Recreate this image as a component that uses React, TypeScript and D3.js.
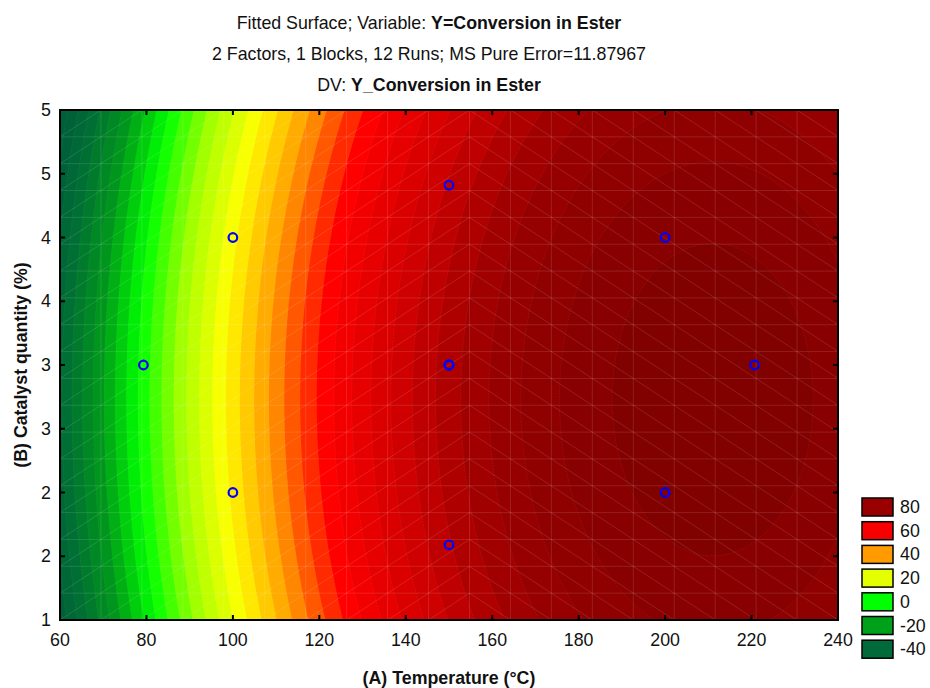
import React from 'react';
import * as d3 from 'd3';

// axes
const xTicks = [60, 80, 100, 120, 140, 160, 180, 200, 220, 240];
const yTicks = [1, 1.5, 2, 2.5, 3, 3.5, 4, 4.5, 5];

// central composite design, 12 runs (4 centre points)
const runTemp = [100, 200, 100, 200, 79.3, 220.7, 150, 150, 150, 150, 150, 150];
const runCat = [2, 2, 4, 4, 3, 3, 1.59, 4.41, 3, 3, 3, 3];

// fitted quadratic model in coded units A=(T-150)/50, B=(C-3)/1
// order: b0, A, B, A^2, B^2, AB
const coefs = [78.4, 38.43, -1.23, -15.75, -2.27, 0];

const legendLevels = [80, 60, 40, 20, 0, -20, -40];
const legendColors = ['#9a0000', '#f70000', '#ff9a00', '#e4ff00', '#00ff00', '#00a11a', '#006a3a'];

const W = 930;
const H = 688;
const L = 60, T = 110, R = 838, B = 620;
const pw = R - L, ph = B - T;

const fitted = (t: number, c: number) => {
  const a = (t - 150) / 50;
  const b = c - 3;
  return coefs[0] + coefs[1] * a + coefs[2] * b + coefs[3] * a * a + coefs[4] * b * b + coefs[5] * a * b;
};

const color = d3.scaleLinear<string>()
  .domain([-50, -40, -24, -9, 6, 21, 36, 51, 70, 84, 102])
  .range(['#005e3a', '#006b36', '#00981a', '#00ff00', '#a0ff00', '#ffff00', '#ff9900', '#ff0000', '#cc0000', '#9c0000', '#7f0000'])
  .clamp(true);

const App = () => {
  const x = d3.scaleLinear().domain([60, 240]).range([L, R]);
  const y = d3.scaleLinear().domain([1, 5]).range([B, T]);

  const nx = 300, ny = 200;
  const values: number[] = new Array(nx * ny);
  for (let j = 0; j < ny; j++) {
    for (let i = 0; i < nx; i++) {
      const t = x.invert(L + pw * (i + 0.5) / nx);
      const c = y.invert(T + ph * (j + 0.5) / ny);
      values[j * nx + i] = fitted(t, c);
    }
  }
  const step = 4.5;
  const thresholds = d3.range(0, 34).map(k => 98.6 - step * k).reverse();
  const bands = d3.contours().size([nx, ny]).thresholds(thresholds)(values);
  const path = d3.geoPath(d3.geoTransform({
    point(px, py) { this.stream.point(L + px * pw / nx, T + py * ph / ny); }
  }));

  // surface mesh
  const nm = 19;
  const mesh: string[] = [];
  for (let i = 0; i <= nm; i++) {
    const xx = L + pw * i / nm, yy = T + ph * i / nm;
    mesh.push(`M${xx},${T}V${B}`, `M${L},${yy}H${R}`);
  }
  for (let i = 0; i < nm; i++) {
    for (let j = 0; j < nm; j++) {
      const x0 = L + pw * i / nm, x1 = L + pw * (i + 1) / nm;
      const y0 = T + ph * j / nm, y1 = T + ph * (j + 1) / nm;
      const tMid = x.invert((x0 + x1) / 2);
      mesh.push(tMid < 156 ? `M${x0},${y1}L${x1},${y0}` : `M${x0},${y0}L${x1},${y1}`);
    }
  }

  const font = '"Liberation Sans", Arial, sans-serif';
  const fs = 17.8;

  return (
    <svg width={W} height={H} style={{ position: 'absolute', left: 0, top: 0, background: '#fff' }} fontFamily={font}>
      <g textAnchor="middle" fontSize={fs} fill="#111">
        <text x={429} y={29}>Fitted Surface; Variable: <tspan fontWeight="bold">Y=Conversion in Ester</tspan></text>
        <text x={429} y={60}>2 Factors, 1 Blocks, 12 Runs; MS Pure Error=11.87967</text>
        <text x={429} y={91}>DV: <tspan fontWeight="bold">Y_Conversion in Ester</tspan></text>
      </g>

      <defs>
        <clipPath id="plot"><rect x={L} y={T} width={pw} height={ph} /></clipPath>
      </defs>
      <g clipPath="url(#plot)">
        <rect x={L} y={T} width={pw} height={ph} fill={color(-52)} />
        {bands.map((b, i) => (
          <path key={i} d={path(b as any) || ''} fill={color(b.value + step / 2)}
            stroke="rgba(255,255,255,0.10)" strokeWidth={0.6} strokeDasharray="2,1" />
        ))}
        <path d={mesh.join('')} stroke="rgba(255,255,255,0.12)" strokeWidth={1} fill="none" />
      </g>

      {runTemp.map((t, i) => (
        <circle key={i} cx={x(t)} cy={y(runCat[i])} r={4.3} fill="none" stroke="#0000ff" strokeWidth={2.2} />
      ))}

      <rect x={L} y={T} width={pw} height={ph} fill="none" stroke="#000" strokeWidth={2} />
      <g stroke="#000" strokeWidth={2}>
        {xTicks.map(v => (
          <g key={v}>
            <line x1={x(v)} x2={x(v)} y1={B} y2={B - 5} />
            <line x1={x(v)} x2={x(v)} y1={T} y2={T + 5} />
          </g>
        ))}
        {yTicks.map(v => (
          <g key={v}>
            <line x1={L} x2={L + 5} y1={y(v)} y2={y(v)} />
            <line x1={R} x2={R - 5} y1={y(v)} y2={y(v)} />
          </g>
        ))}
      </g>
      <g fontSize={fs} fill="#111">
        {xTicks.map(v => (
          <text key={v} x={x(v)} y={646} textAnchor="middle">{v}</text>
        ))}
        {yTicks.map(v => (
          <text key={v} x={51} y={y(v) + 6} textAnchor="end">{Math.round(v)}</text>
        ))}
      </g>
      <text x={449} y={684} textAnchor="middle" fontSize={fs} fontWeight="bold" fill="#111">(A) Temperature (°C)</text>
      <text transform={`translate(27,${(T + B) / 2}) rotate(-90)`} textAnchor="middle" fontSize={fs} fontWeight="bold" fill="#111">(B) Catalyst quantity (%)</text>

      <g>
        {legendLevels.map((v, i) => (
          <g key={v} transform={`translate(862,${498 + i * 23.7})`}>
            <rect width={31} height={18} fill={legendColors[i]} stroke="#000" strokeWidth={1.5} />
            <text x={38} y={15} fontSize={fs} fill="#111">{v}</text>
          </g>
        ))}
      </g>
    </svg>
  );
};

export default App;
